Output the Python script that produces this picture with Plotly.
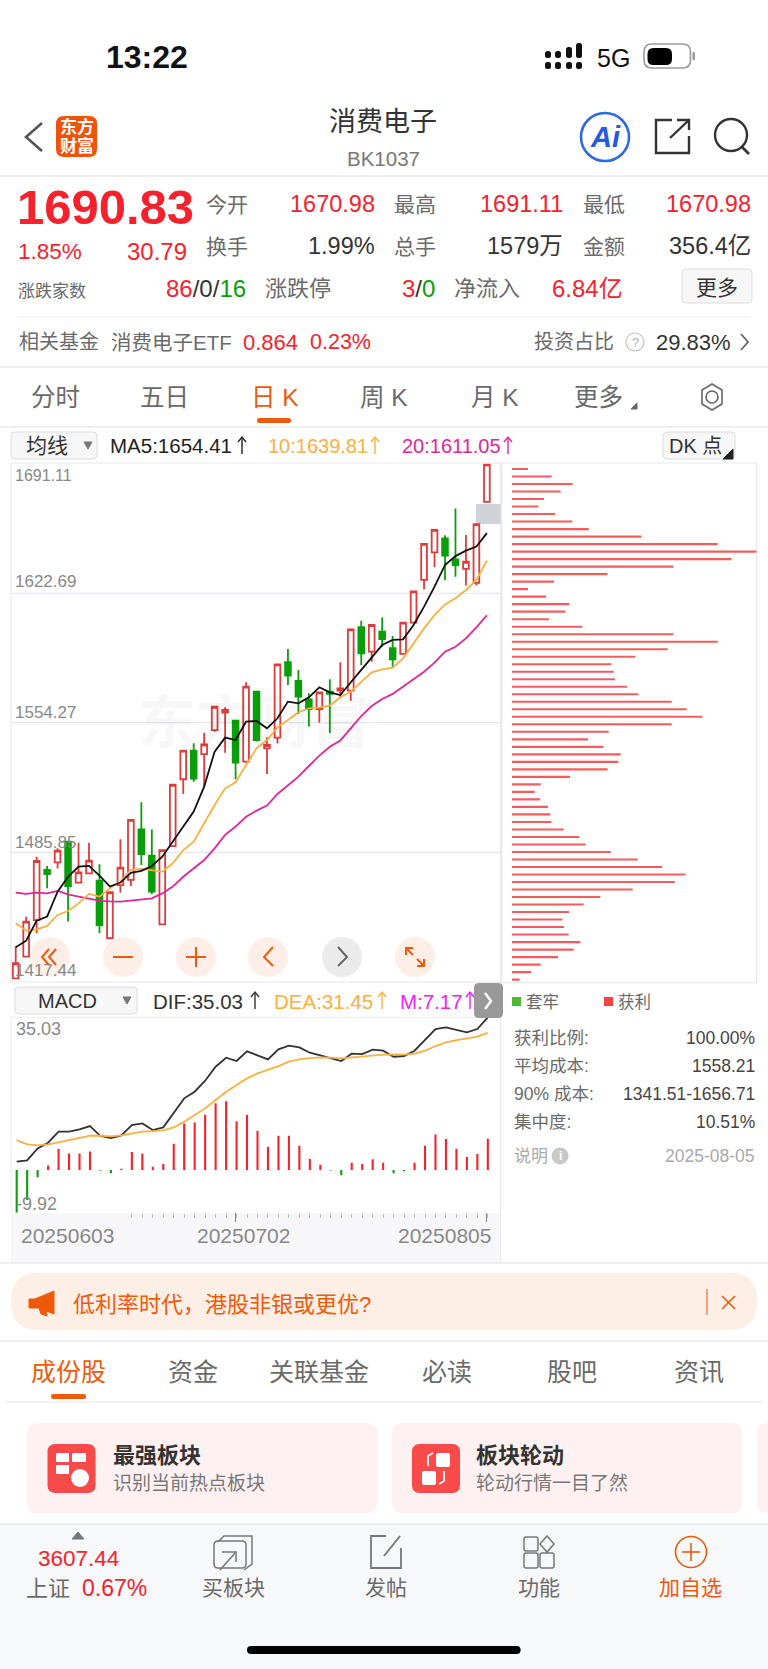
import plotly.graph_objects as go

# ---------- data ----------
opens = [1419.2,1430.7,1450.0,1476.5,1480.5,1491.4,1469.8,1474.7,1470.8,1440.4,1468.5,1471.2,1497.9,1484.0,1447.7,1489.1,
         1524.4,1539.5,1537.7,1550.4,1559.6,1555.4,1533.7,1570.7,1540.7,1546.4,1586.2,1576.3,1566.6,1561.5,1570.7,1571.2,
         1571.2,1604.7,1591.8,1602.4,1593.6,1590.6,1607.1,1629.7,1644.3,1651.7,1640.6,1635.5,1628.2,1670.98]
highs = [1436.0,1451.8,1483.5,1478.6,1488.0,1491.4,1490.9,1490.9,1479.5,1465.0,1492.7,1502.9,1512.2,1497.9,1487.0,1521.5,
         1539.5,1543.4,1549.0,1562.7,1562.4,1555.4,1575.6,1570.7,1546.6,1585.1,1593.2,1582.1,1569.8,1570.3,1577.2,1586.2,
         1603.6,1608.2,1605.9,1609.9,1600.1,1607.1,1623.7,1648.7,1656.1,1653.3,1667.5,1653.4,1659.2,1691.11]
lows = [1418.9,1430.7,1443.0,1466.8,1477.3,1449.2,1469.8,1474.7,1443.0,1440.4,1464.5,1468.0,1479.1,1463.6,1447.7,1489.1,
        1516.6,1523.1,1520.1,1549.5,1538.4,1524.4,1533.7,1544.3,1527.2,1543.4,1574.2,1558.9,1552.2,1554.3,1548.7,1567.2,
        1565.9,1584.7,1586.5,1594.4,1583.9,1590.6,1607.1,1624.7,1636.4,1629.7,1631.4,1626.7,1626.8,1670.98]
closes = [1427.2,1449.2,1481.2,1474.3,1486.7,1468.0,1475.2,1481.4,1447.4,1464.7,1477.7,1502.9,1484.9,1465.0,1487.0,1521.5,
          1539.5,1524.7,1542.8,1562.7,1561.0,1533.2,1573.3,1545.1,1542.5,1585.1,1579.1,1568.0,1561.5,1570.3,1569.5,1572.4,
          1603.6,1590.9,1605.9,1598.5,1587.7,1607.1,1623.7,1648.7,1656.1,1642.5,1637.6,1639.3,1659.2,1690.83]
ma5 = [1435.6,1439.1,1449.7,1451.8,1465.0,1472.9,1478.2,1478.6,1473.5,1467.7,1469.8,1475.0,1476.0,1478.6,1483.5,1491.4,
       1499.4,1507.3,1520.5,1539.0,1546.4,1545.1,1554.8,1555.2,1551.3,1556.6,1565.4,1564.5,1567.7,1573.0,1570.3,1568.9,
       1575.6,1582.1,1589.2,1595.3,1598.0,1598.3,1605.9,1615.6,1626.2,1637.6,1642.3,1645.2,1647.3,1654.41]
ma10 = [1448.3,1444.4,1445.1,1446.9,1452.7,1454.8,1458.8,1463.8,1462.4,1466.8,1470.3,1476.5,1477.0,1476.1,1475.6,1480.0,
        1487.0,1491.4,1501.1,1510.8,1519.6,1522.8,1531.9,1540.7,1545.1,1551.8,1555.7,1559.8,1561.9,1562.2,1563.3,1567.7,
        1570.7,1576.0,1580.9,1582.5,1583.4,1588.3,1596.2,1604.1,1611.2,1616.8,1620.0,1624.4,1629.7,1639.81]
ma20 = [1464.5,1463.8,1464.5,1464.1,1465.4,1463.6,1462.4,1461.5,1460.3,1459.9,1459.7,1460.3,1461.1,1461.5,1464.1,1467.7,
        1472.9,1477.3,1481.7,1487.9,1495.0,1499.4,1504.6,1507.8,1510.5,1516.6,1521.4,1525.8,1531.4,1536.9,1541.6,1544.8,
        1551.3,1557.8,1563.1,1566.8,1569.5,1573.3,1577.2,1581.2,1586.0,1591.8,1594.4,1598.8,1604.6,1611.05]
dif = [1.91,2.22,4.97,6.27,8.79,8.79,9.33,10.09,7.80,7.34,7.95,10.32,10.70,9.17,9.79,13.0,16.44,17.97,20.49,23.70,25.76,25.0,
       27.22,26.3,25.38,27.67,28.52,28.13,26.91,26.30,25.61,25.0,26.68,26.6,27.6,27.37,25.99,26.15,27.37,29.82,32.34,32.72,
       32.19,31.57,32.34,35.03]
dea = [6.88,5.89,5.66,5.89,6.35,6.80,7.26,7.87,7.87,7.72,7.95,8.41,8.79,8.94,9.10,9.79,11.09,12.61,14.14,16.05,17.97,19.49,
       21.02,22.17,22.94,23.85,24.85,25.38,25.69,25.84,25.76,25.61,25.84,26.07,26.30,26.45,26.53,26.45,26.68,27.37,28.44,
       29.28,29.82,30.12,30.58,31.45]
macd = [-9.71,-6.88,-1.68,1.07,4.82,3.82,3.82,4.28,-0.15,-0.76,0.31,4.13,3.82,0.76,1.38,6.04,10.7,10.9,12.7,15.3,15.75,11.2,
        12.6,8.94,5.35,7.87,7.87,5.58,2.52,1.22,-0.1,-1.22,1.68,1.38,2.45,1.68,-0.76,-0.3,1.68,5.58,8.18,7.11,4.89,2.98,3.67,7.17]
chips = [48,119,182,146,96,79,129,181,230,388,617,734,658,484,286,126,48,102,172,160,111,211,484,617,467,370,298,305,309,346,
         379,479,524,571,479,290,228,274,326,319,287,174,86,68,84,108,115,118,155,202,221,296,377,450,521,488,362,265,215,171,
         151,156,170,205,185,138,86,57,23]
price_ticks = ["1691.11", "1622.69", "1554.27", "1485.85", "1417.44"]
date_labels = ["20250603", "20250702", "20250805"]
days = list(range(len(closes)))
chip_bins = list(range(len(chips)))

W, H = 768, 1669
FONT = "Liberation Sans, Noto Sans CJK SC, sans-serif"
RED, GREEN, ORANGE, GOLD, PINK = "#f5222d", "#0a9e0a", "#ee5a0a", "#fbb040", "#e0269a"
DARK, GRAY = "#333333", "#6a6a6a"

px = lambda x: x / W
py = lambda y: 1 - y / H
shapes, notes = [], []


def T(text, x, y, size, color=DARK, anchor="left", bold=False):
    t = f"<b>{text}</b>" if bold else text
    notes.append(dict(text=t, x=px(x), y=py(y), xref="paper", yref="paper", xanchor=anchor, yanchor="middle",
                      showarrow=False, borderpad=0, font=dict(size=size, color=color, family=FONT)))


def P(d, fill=None, line=None, width=0, layer="above"):
    s = dict(type="path", path=d, xref="paper", yref="paper", layer=layer, fillcolor=fill or "rgba(0,0,0,0)",
             line=dict(color=line or "rgba(0,0,0,0)", width=width))
    shapes.append(s)


def RR(x0, y0, x1, y1, r, fill=None, line=None, width=0, layer="above"):
    a, b, c, d = px(x0), py(y0), px(x1), py(y1)
    rx, ry = r / W, r / H
    p = (f"M{a+rx},{b} L{c-rx},{b} Q{c},{b} {c},{b-ry} L{c},{d+ry} Q{c},{d} {c-rx},{d} L{a+rx},{d} "
         f"Q{a},{d} {a},{d+ry} L{a},{b-ry} Q{a},{b} {a+rx},{b} Z")
    P(p, fill, line, width, layer)


def L(pts, color, width=2, close=False, fill=None, layer="above"):
    d = "M" + " L".join(f"{px(x)},{py(y)}" for x, y in pts) + (" Z" if close else "")
    P(d, fill, color, width, layer)


def C(x, y, r, fill=None, line=None, width=0, layer="above"):
    shapes.append(dict(type="circle", xref="paper", yref="paper", x0=px(x - r), x1=px(x + r), y0=py(y + r), y1=py(y - r),
                       layer=layer, fillcolor=fill or "rgba(0,0,0,0)", line=dict(color=line or "rgba(0,0,0,0)", width=width)))


def UP(x, y0, y1, color):
    L([(x, y1), (x, y0)], color, 1.4)
    L([(x - 4, y0 + 5), (x, y0), (x + 4, y0 + 5)], color, 1.4)


fig = go.Figure()
# ---------- panels ----------
fig.add_trace(go.Candlestick(x=days, open=opens, high=highs, low=lows, close=closes, xaxis="x", yaxis="y",
                             increasing=dict(line=dict(color="#dc3c3c", width=1.8), fillcolor="#ffffff"),
                             decreasing=dict(line=dict(color=GREEN, width=1.8), fillcolor=GREEN),
                             whiskerwidth=0, showlegend=False))
for series, col in ((ma20, PINK), (ma10, GOLD), (ma5, "#111111")):
    fig.add_trace(go.Scatter(x=days, y=series, mode="lines", line=dict(color=col, width=1.8), xaxis="x", yaxis="y", showlegend=False))
fig.add_trace(go.Bar(x=days, y=macd, width=0.2, marker=dict(color=["#f5222d" if v > 0 else GREEN for v in macd], line=dict(width=0)),
                     xaxis="x2", yaxis="y2", showlegend=False))
fig.add_trace(go.Scatter(x=days, y=dif, mode="lines", line=dict(color="#333333", width=1.8), xaxis="x2", yaxis="y2", showlegend=False))
fig.add_trace(go.Scatter(x=days, y=dea, mode="lines", line=dict(color=GOLD, width=1.8), xaxis="x2", yaxis="y2", showlegend=False))
fig.add_trace(go.Bar(y=chip_bins, x=chips, orientation="h", width=0.28, marker=dict(color="#f25c5f", line=dict(width=0)),
                     xaxis="x3", yaxis="y3", showlegend=False))

hidden = dict(showgrid=False, zeroline=False, showticklabels=False, ticks="", showline=False, fixedrange=True)
minor_days = days[11:]
fig.update_layout(
    width=W, height=H, margin=dict(l=0, r=0, t=0, b=0), paper_bgcolor="#ffffff", plot_bgcolor="rgba(0,0,0,0)",
    showlegend=False, barmode="overlay", boxgap=0.22, hovermode=False, font=dict(family=FONT),
    xaxis=dict(domain=[px(11), px(500.7)], range=[-0.449, 46.32], rangeslider=dict(visible=False), anchor="y", **hidden),
    yaxis=dict(domain=[py(981.7), py(463.7)], range=[1417.44, 1691.11], anchor="x", **hidden),
    xaxis2=dict(domain=[px(11), px(500.7)], range=[-0.544, 46.23], anchor="y2", showgrid=False, zeroline=False, showticklabels=False,
                ticks="outside", tickvals=minor_days, ticklen=4, tickwidth=1, tickcolor="#bdbdbd", showline=False, fixedrange=True),
    yaxis2=dict(domain=[py(1213.3), py(1017.3)], range=[-9.92, 35.03], anchor="x2", **hidden),
    xaxis3=dict(domain=[px(512), px(756.7)], range=[0, 734], anchor="y3", **hidden),
    yaxis3=dict(domain=[py(983), py(463.7)], range=[68.45, -0.706], anchor="x3", **hidden),
)

# ---------- backgrounds, frames ----------
GRID = "#e6e8f0"
RR(0, 1524, 768, 1669, 0, fill="#f7f8fa", layer="below")
RR(11, 1213.3, 501, 1263, 0, fill="#f7f7fa", layer="below")
for y in (176, 367, 427):
    L([(0, y), (768, y)], "#efefef", 2, layer="below")
L([(18, 317), (750, 317)], "#eeeeee", 1, layer="below")
L([(0, 1263), (768, 1263)], "#e9e9e9", 1.5, layer="below")
L([(0, 1341), (768, 1341)], "#efefef", 2, layer="below")
L([(5, 1402), (763, 1402)], "#efefef", 1.5, layer="below")
L([(0, 1524), (768, 1524)], "#dddddd", 1.2, layer="below")
RR(11, 463, 500.7, 982, 0, line="#e8e8ee", width=1.2, layer="below")
L([(11, 1017.3), (500.7, 1017.3), (500.7, 1213.3)], "#ececf0", 1, layer="below")
L([(11, 1017.3), (11, 1213.3)], "#ececf0", 1, layer="below")
L([(500.7, 982), (500.7, 1263)], "#e8e8ee", 1, layer="below")
RR(501.7, 463, 756.7, 982.7, 0, line="#e8e8ee", width=1.2, layer="below")
for y in (593.3, 722.7, 852.3):
    L([(11, y), (500.7, y)], GRID, 1.2, layer="below")
RR(476, 504, 500.7, 524, 0, fill="#d0d3d9", layer="below")
T("<b>东方财富</b>", 254, 722, 58, "rgba(0,0,0,0.03)", "center")

# ---------- status bar ----------
T("13:22", 105, 57, 32, "#111111", bold=True)
for i, x in enumerate((545, 555, 566, 576)):
    top = (51, 51, 47, 43)[i]
    RR(x, top, x + 6, 58, 2.5, fill="#111111")
    RR(x, 62, x + 6, 69, 2.5, fill="#111111")
T("5G", 596, 58, 25, "#111111")
RR(644, 44, 690.5, 68, 8, line="#9a9a9a", width=1.6)
RR(647.5, 48, 672, 65, 6, fill="#000000")
RR(692.5, 52, 695, 60, 1, fill="#9a9a9a")

# ---------- header ----------
L([(42, 123), (26, 137), (42, 151)], "#555555", 2.6)
RR(56, 116, 97, 157, 8, fill="#f0520a")
T("<b>东方</b>", 76.5, 127, 17, "#ffffff", "center")
T("<b>财富</b>", 76.5, 146, 17, "#ffffff", "center")
T("消费电子", 383, 122, 27, "#333333", "center")
T("BK1037", 383, 159, 20.5, "#777777", "center")
C(605, 137, 24, line="#2f6ae6", width=2.6)
notes.append(dict(text="<b><i>Ai</i></b>", x=px(605), y=py(137), xref="paper", yref="paper", showarrow=False, borderpad=0,
                  xanchor="center", yanchor="middle", font=dict(size=29, color="#2458e0", family=FONT)))
L([(672, 120), (656, 120), (656, 153), (689, 153), (689, 136)], "#333333", 2.4)
L([(670, 138), (689, 120)], "#333333", 2.4)
L([(677, 120), (689, 120), (689, 130)], "#333333", 2.4)
C(731, 135, 16, line="#333333", width=2.4)
L([(742, 147), (749, 154)], "#333333", 2.6)

# ---------- quote block ----------
T("1690.83", 16, 207, 49, RED, bold=True)
for label, x in (("今开", 205), ("最高", 393), ("最低", 582)):
    T(label, x, 204, 21, GRAY)
for value, x in (("1670.98", 376), ("1691.11", 564), ("1670.98", 752)):
    T(value, x, 204, 23.5, RED, "right")
T("1.85%", 17, 252, 22.5, RED)
T("30.79", 187.5, 252, 24, RED, "right")
for label, x in (("换手", 205), ("总手", 393), ("金额", 582)):
    T(label, x, 246, 21, GRAY)
for value, x in (("1.99%", 376), ("1579万", 564), ("356.4亿", 752)):
    T(value, x, 246, 23.5, DARK, "right")
T("涨跌家数", 17, 291, 17, GRAY)
T(f'<span style="color:{RED}">86</span>/0/<span style="color:{GREEN}">16</span>', 247, 288, 24, DARK, "right")
T("涨跌停", 264, 288, 22, GRAY)
T(f'<span style="color:{RED}">3</span>/<span style="color:{GREEN}">0</span>', 436, 288, 24, DARK, "right")
T("净流入", 453, 288, 22, GRAY)
T("6.84亿", 624, 288, 24, RED, "right")
RR(682, 269, 752, 303, 4, fill="#f7f7f7", line="#dddddd", width=1)
T("更多", 717, 287, 21, DARK, "center")
T("相关基金", 18, 342, 20, GRAY)
T("消费电子ETF", 110, 342, 20.5, GRAY)
T("0.864", 242, 342, 22, RED)
T("0.23%", 309, 342, 21.5, RED)
T("投资占比", 533, 342, 20, GRAY)
C(635, 342, 9, line="#c4c4c4", width=1.2)
T("?", 635, 342, 13, "#b0b0b0", "center")
T("29.83%", 655, 342, 22, DARK)
L([(741, 334), (748, 342), (741, 350)], "#666666", 1.8)

# ---------- period tabs ----------
for label, x, col in (("分时", 55, GRAY), ("五日", 164, GRAY), ("日 K", 275, ORANGE), ("周 K", 384, GRAY), ("月 K", 495, GRAY), ("更多", 598, GRAY)):
    T(label, x, 397, 24.5, col, "center")
L([(631, 409), (637, 409), (637, 403)], "#666666", 1, close=True, fill="#666666")
C(712, 397, 6, line="#666666", width=1.6)
L([(712, 384), (722, 390), (722, 404), (712, 410), (702, 404), (702, 390)], "#666666", 1.6, close=True)
RR(257, 418, 291, 423, 2.5, fill=ORANGE)

# ---------- main-chart header ----------
RR(11, 432, 97, 459, 4, fill="#f7f7f7", line="#dddddd", width=1)
T("均线", 47, 446, 21, DARK, "center")
L([(84, 442), (92, 442), (88, 449)], "#777777", 1, close=True, fill="#777777")
T("MA5:1654.41", 109, 446, 20.5, "#222222")
UP(242, 437, 454, "#222222")
T("10:1639.81", 267, 446, 20, GOLD)
UP(375, 437, 454, GOLD)
T("20:1611.05", 401, 446, 20, PINK)
UP(508, 437, 454, PINK)
RR(663, 432, 735, 459, 4, fill="#f7f7f7", line="#dddddd", width=1)
T("DK 点", 668, 446, 20, DARK)
L([(733, 449), (733, 459), (723, 459)], "#222222", 1, close=True, fill="#222222")
tick_pos = (476, 581, 712, 842, 971)
for label, y in zip(price_ticks, tick_pos):
    T(label, 14, y, 17 if label != "1691.11" else 16, "#888888")

# ---------- chart buttons ----------
BTN = "rgba(253,238,230,0.92)"
for x in (50, 123, 196, 268, 415):
    C(x, 957, 20, fill=BTN)
C(342, 957, 20, fill="#ebebeb")
L([(49, 949), (42, 957), (49, 965)], ORANGE, 2)
L([(56, 949), (49, 957), (56, 965)], ORANGE, 2)
L([(113, 957), (133, 957)], ORANGE, 2)
L([(186, 957), (206, 957)], ORANGE, 2)
L([(196, 947), (196, 967)], ORANGE, 2)
L([(273, 947), (264, 957), (273, 966)], ORANGE, 2)
L([(338, 947), (347, 957), (338, 966)], "#666666", 2)
L([(406, 948), (413, 955)], ORANGE, 2)
L([(406, 955), (406, 948), (413, 948)], ORANGE, 2)
L([(424, 959), (424, 966), (417, 966)], ORANGE, 2)
L([(417, 959), (424, 966)], ORANGE, 2)

# ---------- MACD header ----------
RR(15, 987, 137, 1014, 4, fill="#f7f7f7", line="#dddddd", width=1)
T("MACD", 67, 1001, 20, DARK, "center")
L([(123, 997), (131, 997), (127, 1004)], "#777777", 1, close=True, fill="#777777")
T("DIF:35.03", 152, 1001, 20.5, DARK)
UP(255, 992, 1009, DARK)
T("DEA:31.45", 273, 1001, 20.5, GOLD)
UP(382, 992, 1009, GOLD)
T("M:7.17", 399, 1001, 20.5, "#ee22ee")
UP(470, 992, 1009, "#ee22ee")
RR(474, 983, 503, 1018, 5, fill="#999999")
L([(485, 993), (491, 1001), (485, 1009)], "#ffffff", 2.4)
T("35.03", 15, 1029, 18, "#888888")
T("-9.92", 15, 1204, 18, "#888888")
for x in (235.5, 486.5):
    L([(x, 1213), (x, 1222)], "#888888", 1)
for label, x in zip(date_labels, (67.5, 243, 444)):
    T(label, x, 1235, 21, "#888888", "center")

# ---------- chip side panel ----------
RR(512, 997, 521, 1006, 0, fill="#52b83a")
T("套牢", 525, 1002, 16.5, GRAY)
RR(604, 997, 613, 1006, 0, fill="#ef4444")
T("获利", 617, 1002, 16.5, GRAY)
for label, value, y in (("获利比例:", "100.00%", 1038), ("平均成本:", "1558.21", 1066), ("90% 成本:", "1341.51-1656.71", 1094), ("集中度:", "10.51%", 1122)):
    T(label, 513, y, 17.5, GRAY)
    T(value, 756, y, 17.5, "#444444", "right")
T("说明", 513, 1156, 17, "#aaaaaa")
C(560, 1156, 8.5, fill="#c8c8c8")
T("<b>i</b>", 560, 1156, 12, "#ffffff", "center")
T("2025-08-05", 756, 1156, 17.5, "#aaaaaa", "right")

# ---------- news banner ----------
RR(11, 1273, 757, 1330, 27, fill="#fdeee6", layer="below")
L([(29, 1299), (35, 1299), (54, 1291), (54, 1314), (46, 1311), (47, 1316), (41, 1314), (39, 1308), (29, 1308)], ORANGE, 1, close=True, fill=ORANGE)
T("低利率时代，港股非银或更优?", 72, 1304, 22, ORANGE)
L([(707, 1289), (707, 1315)], ORANGE, 1)
L([(722, 1296), (735, 1309)], ORANGE, 1.6)
L([(735, 1296), (722, 1309)], ORANGE, 1.6)

# ---------- content tabs ----------
for label, x, col in (("成份股", 68.5, ORANGE), ("资金", 193, GRAY), ("关联基金", 319, GRAY), ("必读", 447, GRAY), ("股吧", 572, GRAY), ("资讯", 699, GRAY)):
    T(label, x, 1372, 25, col, "center")
RR(51, 1394, 86, 1399, 2.5, fill=ORANGE)

# ---------- cards ----------
RR(27, 1423, 377, 1513, 10, fill="#fff1f1", layer="below")
RR(392, 1423, 742, 1513, 10, fill="#fff1f1", layer="below")
RR(757, 1423, 790, 1513, 10, fill="#fff1f1", layer="below")
RR(47.5, 1444, 95.5, 1493, 8, fill="#f94a4a")
RR(412, 1444, 460, 1493, 8, fill="#fb4a4a")
RR(56, 1453, 69, 1462, 1, fill="#ffffff")
RR(72, 1453, 86, 1462, 1, fill="#ffffff")
RR(56, 1465, 69, 1474, 1, fill="#ffffff")
C(80, 1478, 9, fill="#ffffff")
RR(436, 1453, 450, 1467, 2, fill="#ffffff")
RR(422, 1471, 436, 1485, 2, fill="#ffffff")
L([(428, 1466), (428, 1456), (433, 1453)], "#ffffff", 1.8)
L([(444, 1471), (444, 1481), (439, 1484)], "#ffffff", 1.8)
T("最强板块", 112, 1455, 22, "#333333", bold=True)
T("识别当前热点板块", 112, 1483, 19, "#777777")
T("板块轮动", 475, 1455, 22, "#333333", bold=True)
T("轮动行情一目了然", 475, 1483, 19, "#777777")

# ---------- bottom bar ----------
L([(72, 1539), (84, 1539), (78, 1532)], "#777777", 1, close=True, fill="#777777")
T("3607.44", 78.5, 1558, 22.5, RED, "center")
T("上证", 25, 1588, 22, GRAY)
T("0.67%", 81, 1588, 23, RED)
for label, x, col in (("买板块", 233, GRAY), ("发帖", 386, GRAY), ("功能", 539, GRAY), ("加自选", 690, ORANGE)):
    T(label, x, 1587, 21, col, "center")
L([(218, 1542), (224, 1536), (252, 1536), (252, 1564), (244, 1570)], "#777777", 1.5)
RR(214, 1541, 246, 1568, 4, line="#777777", width=1.5)
L([(220, 1570), (236, 1552)], "#777777", 1.5)
L([(222, 1552), (236, 1552), (236, 1562)], "#777777", 1.5)
L([(386, 1536), (371, 1536), (371, 1568), (401, 1568), (401, 1548)], "#777777", 1.8)
L([(384, 1556), (400, 1536)], "#777777", 2)
for x0, y0 in ((524, 1553), (540, 1553)):
    RR(x0, y0, x0 + 14, y0 + 15, 2, line="#777777", width=1.5)
RR(524, 1537, 538, 1551, 2, line="#777777", width=1.5)
L([(547, 1536), (554, 1544), (547, 1552), (540, 1544)], "#777777", 1.5, close=True)
C(691, 1552, 15.5, line=ORANGE, width=1.6)
L([(682, 1552), (700, 1552)], ORANGE, 1.6)
L([(691, 1543), (691, 1561)], ORANGE, 1.6)
RR(247, 1646, 520.6, 1654, 4, fill="#000000")

fig.update_layout(shapes=shapes, annotations=notes)
fig.write_html("out.html", config=dict(displayModeBar=False, staticPlot=True),
               post_script="document.body.style.margin='0';document.documentElement.style.overflow='hidden';")
